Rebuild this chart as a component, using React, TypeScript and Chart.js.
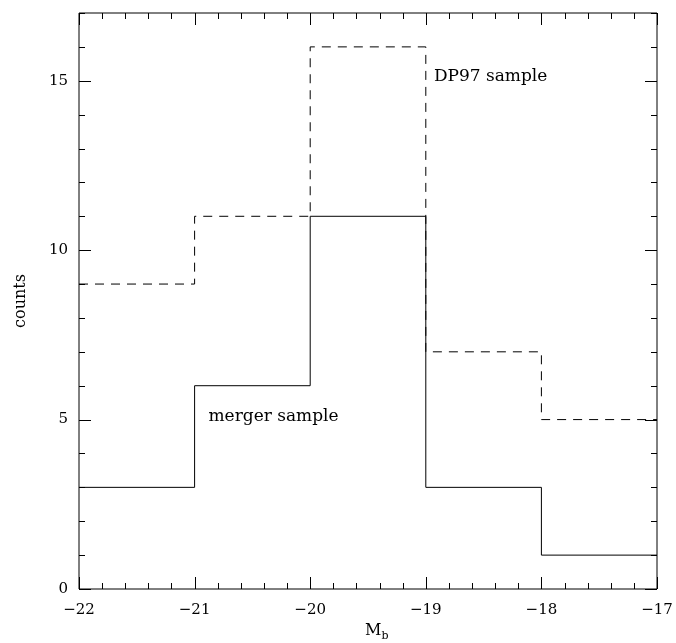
import React, { useEffect, useRef } from "react";
import { Chart, registerables } from "chart.js";

Chart.register(...registerables);

const binEdges = [-22, -21, -20, -19, -18, -17];
const mergerCounts = [3, 6, 11, 3, 1];
const dp97Counts = [9, 11, 16, 7, 5];
const xTickValues = [-22, -21, -20, -19, -18, -17];
const yTickValues = [0, 5, 10, 15];
const mergerLabel = { text: "merger sample", x: -20.88, y: 5.08 };
const dp97Label = { text: "DP97 sample", x: -18.93, y: 15.12 };

const FONT = "'DejaVu Serif', serif";

function stepPoints(counts: number[]) {
  const pts = counts.map((c, i) => ({ x: binEdges[i], y: c }));
  pts.push({ x: binEdges[binEdges.length - 1], y: counts[counts.length - 1] });
  return pts;
}

const framePlugin = {
  id: "frame",
  afterDraw(chart: any) {
    const { ctx, chartArea: a, scales } = chart;
    const xs = scales.x;
    const ys = scales.y;
    ctx.save();
    ctx.strokeStyle = "#000";
    ctx.lineWidth = 1;
    ctx.beginPath();
    ctx.rect(a.left, a.top, a.right - a.left, a.bottom - a.top);
    ctx.stroke();
    ctx.beginPath();
    for (let i = 0; i <= 25; i++) {
      const v = -22 + i * 0.2;
      const major = i % 5 === 0;
      const len = major ? 12 : 6;
      const px = Math.round(xs.getPixelForValue(v)) + 0.5;
      ctx.moveTo(px, a.bottom);
      ctx.lineTo(px, a.bottom - len);
      ctx.moveTo(px, a.top);
      ctx.lineTo(px, a.top + len);
    }
    for (let v = 0; v <= 17; v++) {
      const major = v % 5 === 0;
      const len = major ? 12 : 6;
      const py = Math.round(ys.getPixelForValue(v)) + 0.5;
      ctx.moveTo(a.left, py);
      ctx.lineTo(a.left + len, py);
      ctx.moveTo(a.right, py);
      ctx.lineTo(a.right - len, py);
    }
    ctx.stroke();

    ctx.fillStyle = "#000";
    ctx.font = `17px ${FONT}`;
    ctx.textBaseline = "middle";
    ctx.textAlign = "left";
    for (const l of [mergerLabel, dp97Label]) {
      ctx.fillText(l.text, xs.getPixelForValue(l.x), ys.getPixelForValue(l.y));
    }

    ctx.font = `16px ${FONT}`;
    ctx.textAlign = "center";
    ctx.save();
    ctx.translate(21, (a.top + a.bottom) / 2);
    ctx.rotate(-Math.PI / 2);
    ctx.fillText("counts", 0, 0);
    ctx.restore();
    ctx.textAlign = "left";
    ctx.font = `16px ${FONT}`;
    const mw = ctx.measureText("M").width;
    ctx.fillText("M", 365, 631);
    ctx.font = `11px ${FONT}`;
    ctx.fillText("b", 365 + mw, 636);
    ctx.restore();
  },
};

export default function App() {
  const ref = useRef<HTMLCanvasElement>(null);
  useEffect(() => {
    const chart = new Chart(ref.current!, {
      type: "line",
      data: {
        datasets: [
          {
            label: "merger sample",
            data: stepPoints(mergerCounts),
            stepped: "before",
            borderColor: "#000",
            borderWidth: 1,
            pointRadius: 0,
            fill: false,
          },
          {
            label: "DP97 sample",
            data: stepPoints(dp97Counts),
            stepped: "before",
            borderColor: "#000",
            borderWidth: 1,
            borderDash: [9, 7],
            pointRadius: 0,
            fill: false,
          },
        ],
      },
      options: {
        responsive: false,
        animation: false,
        layout: { padding: { top: 13, right: 19, left: 0, bottom: 0 } },
        plugins: { legend: { display: false }, tooltip: { enabled: false } },
        scales: {
          x: {
            type: "linear",
            min: -22,
            max: -17,
            afterBuildTicks: (s: any) => {
              s.ticks = xTickValues.map((v) => ({ value: v }));
            },
            afterFit: (s: any) => {
              s.height = 54;
              s.paddingLeft = 0;
              s.paddingRight = 0;
            },
            grid: { display: false, drawTicks: false },
            border: { display: false },
            ticks: {
              padding: 12,
              color: "#000",
              font: { family: FONT, size: 15 },
              maxRotation: 0,
              callback: (v: any) => (v < 0 ? "\u2212" + Math.abs(v) : String(v)),
            },
          },
          y: {
            type: "linear",
            min: 0,
            max: 17,
            afterBuildTicks: (s: any) => {
              s.ticks = yTickValues.map((v) => ({ value: v }));
            },
            afterFit: (s: any) => {
              s.width = 79;
              s.paddingTop = 0;
              s.paddingBottom = 0;
            },
            grid: { display: false, drawTicks: false },
            border: { display: false },
            ticks: {
              padding: 11,
              color: "#000",
              font: { family: FONT, size: 15 },
            },
          },
        },
      },
      plugins: [framePlugin],
    });
    return () => chart.destroy();
  }, []);
  return (
    <div style={{ position: "absolute", left: 0, top: 0, width: 676, height: 643, background: "#fff" }}>
      <canvas ref={ref} width={676} height={643} />
    </div>
  );
}
